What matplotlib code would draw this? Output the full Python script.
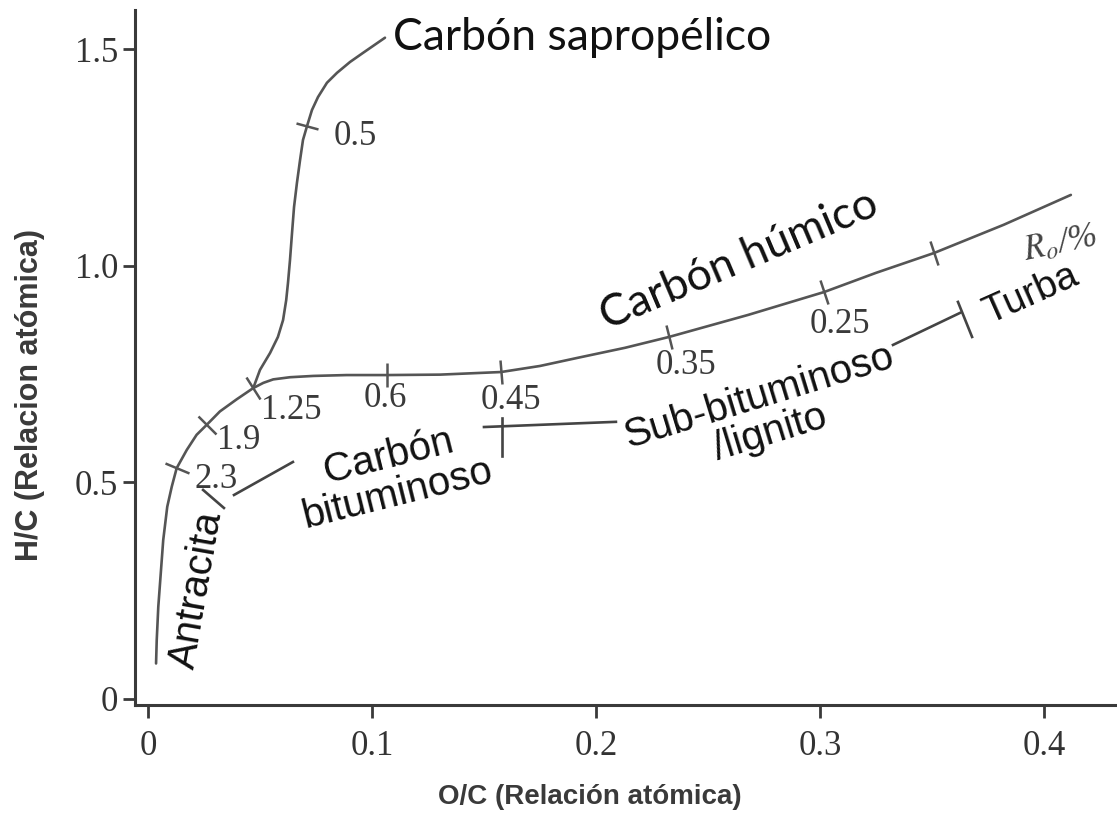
import numpy as np
import matplotlib
matplotlib.use("Agg")
import matplotlib.pyplot as plt
from matplotlib.markers import MarkerStyle
from matplotlib.transforms import Affine2D

plt.rcParams['mathtext.fontset'] = 'stix'

# ---------------- data ----------------
# humic coal band (O/C, H/C)
humic_x = [0.0036, 0.0039, 0.0046, 0.0057, 0.0068, 0.0086, 0.0106, 0.0128, 0.0173, 0.0217,
           0.0262, 0.0321, 0.0396, 0.0470, 0.0515, 0.0559, 0.0634, 0.0738, 0.0887, 0.1066,
           0.1304, 0.1576, 0.175, 0.192, 0.213, 0.2326, 0.268, 0.302, 0.325, 0.351, 0.382, 0.412]
humic_y = [0.082, 0.136, 0.213, 0.290, 0.367, 0.444, 0.490, 0.533, 0.575, 0.610,
           0.633, 0.664, 0.692, 0.718, 0.730, 0.738, 0.743, 0.746, 0.748, 0.748,
           0.749, 0.755, 0.769, 0.788, 0.811, 0.836, 0.887, 0.940, 0.984, 1.030, 1.095, 1.164]

# sapropelic coal branch
sap_x = [0.0470, 0.0500, 0.0545, 0.0580, 0.0603, 0.0617, 0.0625, 0.0634, 0.0643, 0.0652,
         0.0665, 0.0679, 0.0692, 0.0710, 0.0732, 0.0759, 0.0799, 0.0844, 0.0902, 0.0960, 0.1058]
sap_y = [0.718, 0.760, 0.799, 0.836, 0.875, 0.921, 0.961, 1.014, 1.076, 1.136,
         1.192, 1.245, 1.291, 1.323, 1.360, 1.390, 1.423, 1.446, 1.471, 1.492, 1.527]

# vitrinite reflectance (Ro %) marks on humic curve
ro_x = [0.0128, 0.0262, 0.0470, 0.1067, 0.1576, 0.2326, 0.302, 0.351]
ro_y = [0.533, 0.633, 0.718, 0.748, 0.755, 0.836, 0.940, 1.030]
ro_labels = ['2.3', '1.9', '1.25', '0.6', '0.45', '0.35', '0.25', '']
ro_lab_x = [0.0304, 0.0406, 0.0638, 0.1058, 0.1620, 0.2400, 0.3090, 0.0]
ro_lab_y = [0.506, 0.596, 0.667, 0.695, 0.690, 0.769, 0.864, 0.0]

# Ro mark on sapropelic branch
sap_ro_x = [0.0710]
sap_ro_y = [1.323]
sap_ro_label = ['0.5']
sap_ro_lab_x = [0.0924]
sap_ro_lab_y = [1.300]

# rank boundary marks (segments: x0, x1 / y0, y1)
boundary_x = [[0.0246, 0.0339], [0.0384, 0.0647],
              [0.158, 0.158], [0.150, 0.2089],
              [0.3326, 0.3625], [0.3616, 0.3679]]
boundary_y = [[0.4827, 0.4411], [0.4711, 0.5473],
              [0.649, 0.561], [0.628, 0.640],
              [0.8176, 0.8915], [0.9169, 0.836]]

# region labels
region_text = ['Carbón húmico', 'Carbón\nbituminoso', 'Sub-bituminoso\n/lignito', 'Turba', 'Antracita']
region_x = [0.2638, 0.1094, 0.2754, 0.3942, 0.0219]
region_y = [1.014, 0.517, 0.656, 0.933, 0.252]
region_rot = [23, 14, 17, 24, 80]

x_ticks = [0, 0.1, 0.2, 0.3, 0.4]
x_ticklabels = ['0', '0.1', '0.2', '0.3', '0.4']
y_ticks = [0, 0.5, 1.0, 1.5]
y_ticklabels = ['0', '0.5', '1.0', '1.5']

# ---------------- figure ----------------
W, H = 1117, 816
fig = plt.figure(figsize=(W / 100, H / 100), dpi=100)
ax = fig.add_axes([135 / W, 111 / H, (W - 135) / W, (705 - 10) / H])
ax.set_xlim(-0.0058, 0.4326)
ax.set_ylim(-0.0139, 1.591)

line_c = '#555555'
ax.plot(humic_x, humic_y, color=line_c, lw=1.9, solid_capstyle='round', solid_joinstyle='round')
ax.plot(sap_x, sap_y, color=line_c, lw=1.9, solid_capstyle='round', solid_joinstyle='round')

for bx, by in zip(boundary_x, boundary_y):
    ax.plot(bx, by, color='#444444', lw=1.9)

# perpendicular Ro marks
def tick_marks(cx, cy, tx, ty, size):
    disp = ax.transData.transform(np.column_stack([cx, cy]))
    pts = ax.transData.transform(np.column_stack([tx, ty]))
    for p in pts:
        i = int(np.argmin(np.hypot(disp[:, 0] - p[0], disp[:, 1] - p[1])))
        i0, i1 = max(i - 1, 0), min(i + 1, len(cx) - 1)
        d = disp[i1] - disp[i0]
        phi = np.degrees(np.arctan2(d[1], d[0]))
        m = MarkerStyle('|', transform=Affine2D().rotate_deg(phi))
        pd = ax.transData.inverted().transform(p)
        ax.plot([pd[0]], [pd[1]], marker=m, ms=size, mew=1.8, color=line_c, ls='none')

tick_marks(humic_x, humic_y, ro_x, ro_y, 18)
tick_marks(sap_x, sap_y, sap_ro_x, sap_ro_y, 17)

serif = 'Liberation Serif'
for t, x, y in zip(ro_labels, ro_lab_x, ro_lab_y):
    if t:
        ax.text(x, y, t, fontsize=25, family=serif, color='#3a3a3a', ha='center', va='center')
for t, x, y in zip(sap_ro_label, sap_ro_lab_x, sap_ro_lab_y):
    ax.text(x, y, t, fontsize=25, family=serif, color='#3a3a3a', ha='center', va='center')

ax.text(0.407, 1.051, r'$\mathit{R}_{\mathit{o}}$/%', fontsize=25, family=serif,
        fontstyle='italic', color='#444444', ha='center', va='center',
        rotation=12, rotation_mode='anchor')

# labels
ax.text(0.1094, 1.527, 'Carbón sapropélico', fontsize=32, family='Lato', color='#111111',
        ha='left', va='center')
fams = ['Lato', 'Liberation Sans', 'Liberation Sans', 'Liberation Sans', 'Liberation Sans']
sizes = [32, 29, 29, 28, 29]
for t, x, y, r, f, s in zip(region_text, region_x, region_y, region_rot, fams, sizes):
    ax.text(x, y, t, fontsize=s, family=f, color='#111111', ha='center', va='center',
            rotation=r, rotation_mode='anchor', linespacing=1.0)

# axes styling
for s in ['top', 'right']:
    ax.spines[s].set_visible(False)
for s in ['left', 'bottom']:
    ax.spines[s].set_linewidth(2.2)
    ax.spines[s].set_color('#3a3a3a')
ax.set_xticks(x_ticks)
ax.set_xticklabels(x_ticklabels)
ax.set_yticks(y_ticks)
ax.set_yticklabels(y_ticklabels)
ax.tick_params(axis='both', direction='out', length=9, width=2, color='#3a3a3a',
               labelcolor='#333333', labelsize=25)
ax.tick_params(axis='x', pad=9)
ax.tick_params(axis='y', pad=3)
for lab in ax.get_xticklabels() + ax.get_yticklabels():
    lab.set_family(serif)

fig.text(590 / W, 1 - 797 / H, 'O/C (Relación atómica)', fontsize=20, family='Liberation Sans',
         color='#3a3a3a', ha='center', va='center', fontweight='bold')
fig.text(30 / W, 1 - 395 / H, 'H/C (Relacion atómica)', fontsize=22, family='Liberation Sans',
         color='#3a3a3a', ha='center', va='center', rotation=90, fontweight='bold')

fig.savefig('out.png', dpi=100)
